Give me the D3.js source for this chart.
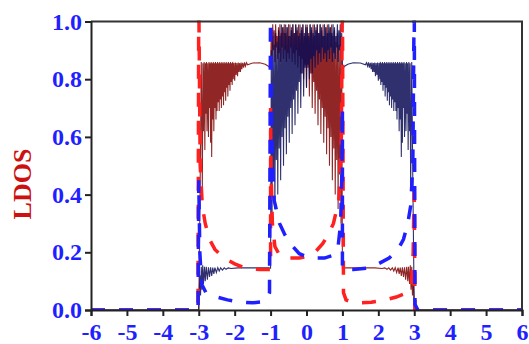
<!DOCTYPE html>
<html><head><meta charset="utf-8">
<script src="https://cdn.jsdelivr.net/npm/d3@7"></script>
<style>body{margin:0;background:#fff}svg{display:block}</style>
</head><body>
<script>
// ---------- data ----------
const xTicks = [-6,-5,-4,-3,-2,-1,0,1,2,3,4,5,6];
const yTicks = [0,0.2,0.4,0.6,0.8,1.0];
const yLabel = "LDOS";

const blueDashed = [[-6,0],[-3.02,0],[-3.0,0.45],[-2.97,0.2],[-2.92,0.09],[-2.8,0.06],[-2.5,0.045],[-2.2,0.035],[-1.8,0.027],[-1.5,0.025],[-1.25,0.028],[-1.1,0.035],[-1.03,0.06],[-1.0,1.1],[-0.97,0.6],[-0.9,0.38],[-0.75,0.3],[-0.6,0.26],[-0.45,0.23],[-0.2,0.195],[0,0.185],[0.2,0.18],[0.5,0.18],[0.75,0.19],[0.88,0.22],[0.95,0.3],[0.99,0.5],[1.0,0.7],[1.0,0.14],[1.3,0.14],[1.7,0.145],[2.0,0.16],[2.3,0.18],[2.55,0.21],[2.7,0.245],[2.82,0.3],[2.9,0.36],[2.96,0.5],[3.0,1.1],[3.02,0.02],[3.1,0],[6,0]];

const redDashed = [[-6,0],[-3.1,0],[-3.02,0.02],[-3.0,1.1],[-2.96,0.5],[-2.9,0.36],[-2.82,0.3],[-2.7,0.245],[-2.55,0.21],[-2.3,0.18],[-2.0,0.16],[-1.7,0.145],[-1.3,0.14],[-1.0,0.14],[-1.0,0.7],[-0.99,0.5],[-0.95,0.3],[-0.88,0.22],[-0.75,0.19],[-0.5,0.18],[-0.2,0.18],[0,0.185],[0.2,0.195],[0.45,0.23],[0.6,0.26],[0.75,0.3],[0.9,0.38],[0.97,0.6],[1.0,1.1],[1.03,0.06],[1.1,0.035],[1.25,0.028],[1.5,0.025],[1.8,0.027],[2.2,0.035],[2.5,0.045],[2.8,0.06],[2.92,0.09],[2.97,0.2],[3.0,0.45],[3.02,0],[6,0]];

const darkRedSolid = [[-6,0],[-3.0,0],[-2.96,0.45],[-2.93,0.86],[-2.90,0.42],[-2.885,0.855],[-2.87,0.62],[-2.85,0.86],[-2.83,0.555],[-2.815,0.855],[-2.80,0.68],[-2.785,0.86],[-2.77,0.62],[-2.75,0.855],[-2.73,0.60],[-2.715,0.86],[-2.70,0.70],[-2.685,0.855],[-2.67,0.58],[-2.655,0.86],[-2.64,0.53],[-2.625,0.855],[-2.61,0.66],[-2.595,0.86],[-2.58,0.62],[-2.565,0.855],[-2.55,0.70],[-2.535,0.86],[-2.52,0.66],[-2.505,0.855],[-2.49,0.69],[-2.475,0.86],[-2.46,0.72],[-2.445,0.855],[-2.43,0.69],[-2.415,0.86],[-2.40,0.73],[-2.385,0.855],[-2.37,0.70],[-2.355,0.86],[-2.34,0.74],[-2.325,0.855],[-2.31,0.71],[-2.295,0.86],[-2.28,0.755],[-2.265,0.855],[-2.25,0.725],[-2.235,0.86],[-2.22,0.77],[-2.205,0.855],[-2.19,0.74],[-2.175,0.86],[-2.16,0.78],[-2.145,0.855],[-2.13,0.76],[-2.115,0.86],[-2.10,0.79],[-2.085,0.855],[-2.07,0.78],[-2.055,0.86],[-2.04,0.80],[-2.02,0.856],[-2.00,0.795],[-1.98,0.858],[-1.96,0.815],[-1.94,0.856],[-1.92,0.81],[-1.90,0.858],[-1.88,0.825],[-1.86,0.856],[-1.84,0.825],[-1.82,0.858],[-1.80,0.835],[-1.775,0.857],[-1.75,0.84],[-1.725,0.858],[-1.70,0.845],[-1.67,0.857],[-1.64,0.85],[-1.5,0.856],[-1.3,0.857],[-1.15,0.852],[-1.06,0.845],[-1.02,0.838],[-1.0,0.85],
[-0.98,0.96],[-0.96,0.87],[-0.94,0.99],[-0.92,0.90],[-0.90,0.97],[-0.88,0.86],[-0.86,0.99],[-0.84,0.91],[-0.82,0.95],[-0.80,0.87],[-0.78,0.98],[-0.76,0.89],[-0.74,0.99],[-0.72,0.86],[-0.70,0.96],[-0.68,0.91],[-0.66,0.98],[-0.64,0.87],[-0.62,0.99],[-0.60,0.90],[-0.58,0.96],[-0.56,0.86],[-0.54,0.98],[-0.52,0.89],[-0.50,0.99],[-0.48,0.87],[-0.46,0.95],[-0.44,0.91],[-0.42,0.98],[-0.40,0.86],[-0.38,0.99],[-0.36,0.89],[-0.34,0.96],[-0.32,0.85],[-0.30,0.99],[-0.28,0.90],[-0.26,0.97],[-0.24,0.84],[-0.22,0.99],[-0.20,0.88],[-0.18,0.96],[-0.16,0.82],[-0.14,0.98],[-0.12,0.87],[-0.10,0.99],[-0.08,0.80],[-0.06,0.95],[-0.04,0.85],[-0.02,0.98],[0.00,0.77],[0.02,0.99],[0.04,0.84],[0.06,0.96],[0.08,0.74],[0.10,0.99],[0.12,0.82],[0.14,0.97],[0.16,0.70],[0.18,0.99],[0.20,0.79],[0.22,0.95],[0.24,0.68],[0.26,0.98],[0.28,0.76],[0.30,0.99],[0.32,0.64],[0.34,0.96],[0.36,0.73],[0.38,0.99],[0.40,0.61],[0.42,0.97],[0.44,0.70],[0.46,0.99],[0.48,0.58],[0.50,0.95],[0.52,0.67],[0.54,0.98],[0.56,0.54],[0.58,0.99],[0.60,0.63],[0.62,0.96],[0.64,0.50],[0.66,0.98],[0.68,0.60],[0.70,0.99],[0.72,0.45],[0.74,0.95],[0.76,0.56],[0.78,0.97],[0.80,0.40],[0.82,0.93],[0.84,0.52],[0.86,0.96],[0.88,0.35],[0.90,0.92],[0.92,0.47],[0.94,0.95],[0.96,0.30],[0.98,0.90],[1.0,0.145],
[1.05,0.146],[1.2,0.146],[1.5,0.146],[1.9,0.146],[2.1,0.144],[2.18,0.146],[2.24,0.141],[2.29,0.146],[2.34,0.138],[2.39,0.146],[2.43,0.135],[2.47,0.147],[2.51,0.13],[2.55,0.147],[2.58,0.125],[2.61,0.147],[2.64,0.118],[2.67,0.148],[2.70,0.115],[2.73,0.148],[2.76,0.105],[2.79,0.15],[2.82,0.10],[2.84,0.15],[2.87,0.09],[2.89,0.155],[2.91,0.07],[2.93,0.15],[2.95,0.05],[2.97,0.12],[3.0,0],[6,0]];

const navySolid = [[-6,0],[-3.0,0],[-2.97,0.12],[-2.95,0.05],[-2.93,0.15],[-2.91,0.07],[-2.89,0.155],[-2.87,0.09],[-2.84,0.15],[-2.82,0.10],[-2.79,0.15],[-2.76,0.105],[-2.73,0.148],[-2.70,0.115],[-2.67,0.148],[-2.64,0.118],[-2.61,0.147],[-2.58,0.125],[-2.55,0.147],[-2.51,0.13],[-2.47,0.147],[-2.43,0.135],[-2.39,0.146],[-2.34,0.138],[-2.29,0.146],[-2.24,0.141],[-2.18,0.146],[-2.1,0.144],[-1.9,0.146],[-1.5,0.146],[-1.2,0.146],[-1.05,0.146],[-1.0,0.145],
[-0.98,0.90],[-0.96,0.30],[-0.94,0.95],[-0.92,0.47],[-0.90,0.92],[-0.88,0.35],[-0.86,0.96],[-0.84,0.52],[-0.82,0.93],[-0.80,0.40],[-0.78,0.97],[-0.76,0.56],[-0.74,0.95],[-0.72,0.45],[-0.70,0.99],[-0.68,0.60],[-0.66,0.98],[-0.64,0.50],[-0.62,0.96],[-0.60,0.63],[-0.58,0.99],[-0.56,0.54],[-0.54,0.98],[-0.52,0.67],[-0.50,0.95],[-0.48,0.58],[-0.46,0.99],[-0.44,0.70],[-0.42,0.97],[-0.40,0.61],[-0.38,0.99],[-0.36,0.73],[-0.34,0.96],[-0.32,0.64],[-0.30,0.99],[-0.28,0.76],[-0.26,0.98],[-0.24,0.68],[-0.22,0.95],[-0.20,0.79],[-0.18,0.99],[-0.16,0.70],[-0.14,0.97],[-0.12,0.82],[-0.10,0.99],[-0.08,0.74],[-0.06,0.96],[-0.04,0.84],[-0.02,0.99],[0.00,0.77],[0.02,0.98],[0.04,0.85],[0.06,0.95],[0.08,0.80],[0.10,0.99],[0.12,0.87],[0.14,0.98],[0.16,0.82],[0.18,0.96],[0.20,0.88],[0.22,0.99],[0.24,0.84],[0.26,0.97],[0.28,0.90],[0.30,0.99],[0.32,0.85],[0.34,0.96],[0.36,0.89],[0.38,0.99],[0.40,0.86],[0.42,0.98],[0.44,0.91],[0.46,0.95],[0.48,0.87],[0.50,0.99],[0.52,0.89],[0.54,0.98],[0.56,0.86],[0.58,0.96],[0.60,0.90],[0.62,0.99],[0.64,0.87],[0.66,0.98],[0.68,0.91],[0.70,0.96],[0.72,0.86],[0.74,0.99],[0.76,0.89],[0.78,0.98],[0.80,0.87],[0.82,0.95],[0.84,0.91],[0.86,0.99],[0.88,0.86],[0.90,0.97],[0.92,0.90],[0.94,0.99],[0.96,0.87],[0.98,0.96],[1.0,0.85],
[1.02,0.838],[1.06,0.845],[1.15,0.852],[1.3,0.857],[1.5,0.856],[1.64,0.85],[1.67,0.857],[1.70,0.845],[1.725,0.858],[1.75,0.84],[1.775,0.857],[1.80,0.835],[1.82,0.858],[1.84,0.825],[1.86,0.856],[1.88,0.825],[1.90,0.858],[1.92,0.81],[1.94,0.856],[1.96,0.815],[1.98,0.858],[2.00,0.795],[2.02,0.856],[2.04,0.80],[2.055,0.86],[2.07,0.78],[2.085,0.855],[2.10,0.79],[2.115,0.86],[2.13,0.76],[2.145,0.855],[2.16,0.78],[2.175,0.86],[2.19,0.74],[2.205,0.855],[2.22,0.77],[2.235,0.86],[2.25,0.725],[2.265,0.855],[2.28,0.755],[2.295,0.86],[2.31,0.71],[2.325,0.855],[2.34,0.74],[2.355,0.86],[2.37,0.70],[2.385,0.855],[2.40,0.73],[2.415,0.86],[2.43,0.69],[2.445,0.855],[2.46,0.72],[2.475,0.86],[2.49,0.69],[2.505,0.855],[2.52,0.66],[2.535,0.86],[2.55,0.70],[2.565,0.855],[2.58,0.62],[2.595,0.86],[2.61,0.66],[2.625,0.855],[2.64,0.53],[2.655,0.86],[2.67,0.58],[2.685,0.855],[2.70,0.70],[2.715,0.86],[2.73,0.60],[2.75,0.855],[2.77,0.62],[2.785,0.86],[2.80,0.68],[2.815,0.855],[2.83,0.555],[2.85,0.86],[2.87,0.62],[2.885,0.855],[2.90,0.42],[2.93,0.86],[2.96,0.45],[3.0,0],[6,0]];

// ---------- drawing ----------
const W = 529, H = 344;
const pL = 91, pR = 522, pT = 21.5, pB = 310;
const x = d3.scaleLinear().domain([-6, 6]).range([pL, pR]);
const y = d3.scaleLinear().domain([0, 1]).range([pB, pT]);

const svg = d3.select("body").append("svg").attr("width", W).attr("height", H);

svg.append("defs").append("clipPath").attr("id", "plotclip")
  .append("rect").attr("x", pL).attr("y", pT - 1).attr("width", pR - pL).attr("height", pB - pT + 1);

const line = d3.line().x(d => x(d[0])).y(d => y(d[1]));
const plot = svg.append("g").attr("clip-path", "url(#plotclip)");

plot.append("path").datum(darkRedSolid).attr("d", line)
  .attr("fill", "none").attr("stroke", "#7d0000").attr("stroke-width", 1.1).attr("stroke-opacity", 0.85);
plot.append("path").datum(navySolid).attr("d", line)
  .attr("fill", "none").attr("stroke", "#0c0c55").attr("stroke-width", 1.1).attr("stroke-opacity", 0.85);
plot.append("path").datum(redDashed).attr("d", line)
  .attr("fill", "none").attr("stroke", "#ff2020").attr("stroke-width", 3.5).attr("stroke-dasharray", "14,14");
plot.append("path").datum(blueDashed).attr("d", line)
  .attr("fill", "none").attr("stroke", "#1f1fff").attr("stroke-width", 3.5).attr("stroke-dasharray", "14,14");

// frame (top, right)
svg.append("path").attr("d", `M${pL},${pT}H${pR}V${pB}`)
  .attr("fill", "none").attr("stroke", "#333").attr("stroke-width", 2);

const fontFam = "'Liberation Serif','Times New Roman',serif";
const xAxis = svg.append("g").attr("transform", `translate(0,${pB})`)
  .call(d3.axisBottom(x).tickValues(xTicks).tickSize(6).tickPadding(7).tickFormat(d => String(d)));
const yAxis = svg.append("g").attr("transform", `translate(${pL},0)`)
  .call(d3.axisLeft(y).tickValues(yTicks).tickSize(6).tickPadding(3).tickFormat(d => d.toFixed(1)));

[xAxis, yAxis].forEach(g => {
  g.select(".domain").attr("stroke", "#222").attr("stroke-width", 2);
  g.selectAll(".tick line").attr("stroke", "#222").attr("stroke-width", 2);
  g.selectAll(".tick text").attr("fill", "#1f1fff").attr("font-family", fontFam)
    .attr("font-weight", "bold").attr("font-size", 24);
});

svg.append("text").attr("transform", "translate(31,184) rotate(-90)")
  .attr("text-anchor", "middle").attr("font-family", fontFam).attr("font-weight", "bold")
  .attr("font-size", 26).attr("fill", "#cc1111").text(yLabel);
</script>
</body></html>
